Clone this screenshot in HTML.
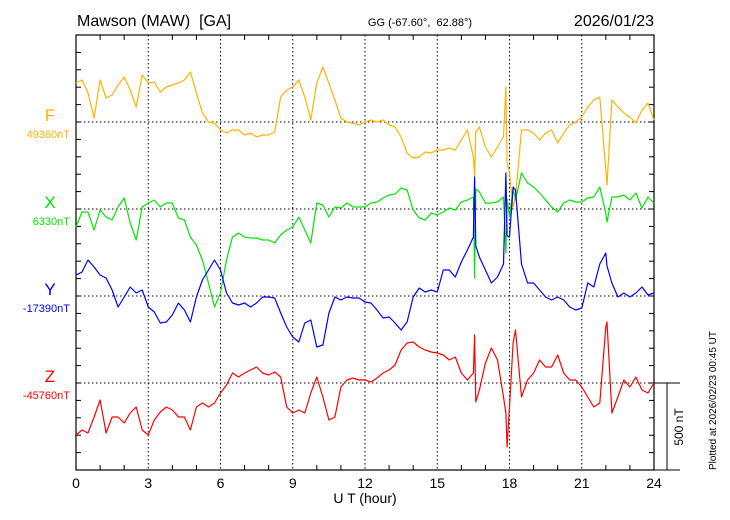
<!DOCTYPE html>
<html><head><meta charset="utf-8"><style>
body{margin:0;background:#fff;}
svg{display:block;font-family:"Liberation Sans",sans-serif;}
</style></head><body>
<svg id="chart" width="730" height="520" viewBox="0 0 730 520">
<g id="frame"></g>
<g id="series"></g>
<g id="labels"></g>
<text x="365" y="503" text-anchor="middle" font-size="14">U T (hour)</text>
<text x="77" y="26" font-size="16" xml:space="preserve">Mawson (MAW)  [GA]</text>
<text x="420" y="26" text-anchor="middle" font-size="11" xml:space="preserve">GG (-67.60°,  62.88°)</text>
<text x="654" y="26" text-anchor="end" font-size="16">2026/01/23</text>
<text transform="translate(683,427) rotate(-90)" text-anchor="middle" font-size="12">500 nT</text>
<text transform="translate(716,470) rotate(-90)" font-size="10">Plotted at 2026/02/23 00:45 UT</text>
</svg>
<script>
// data: hour grid 0..24 step 0.25, deviations in nT from baseline
const gridStart = 0, gridStep = 0.25;
const fValues = [234,252,174,24,252,144,162,222,270,192,90,282,234,240,180,210,222,234,252,300,174,54,0,-6,-48,-66,-48,-48,-78,-66,-90,-78,
-78,-60,150,192,210,252,150,12,234,330,234,132,24,0,-6,-18,0,12,0,12,-18,-30,-90,-186,-216,-210,-180,-186,-168,-168,-156,-168,
-108,-48,-210,-30,-150,-210,-150,-90,-306,-450,-48,-48,-66,-108,-66,-48,-126,-66,-18,0,30,90,132,150,-288,132,90,54,30,-6,72,114,12];
const xValues = [-108,-18,-18,-126,-6,-48,-66,12,66,-84,-186,12,36,54,12,36,36,-54,-66,-168,-216,-306,-444,-588,-504,-306,-168,-144,-168,-174,-174,-186,
-186,-204,-156,-126,-108,-48,-126,-204,36,24,-48,12,6,36,12,12,12,36,42,66,84,90,126,114,-6,-54,-66,-24,-36,-18,6,-6,
42,54,72,102,36,36,42,72,-48,54,216,156,132,96,54,12,-18,36,54,42,42,66,72,132,-24,72,72,84,54,96,6,72,36];
const yValues = [126,144,216,174,126,108,36,-66,-6,54,18,36,-66,-96,-162,-156,-114,-42,-84,-156,-6,96,156,216,156,18,-42,-54,-42,-66,-42,-6,
-6,-12,-102,-186,-246,-276,-162,-144,-306,-294,-102,-6,-24,-6,-12,-12,-36,-42,-84,-132,-126,-162,-204,-156,-6,48,24,36,24,156,156,114,
204,276,354,234,156,78,114,192,354,636,192,78,78,36,-6,-24,-6,-24,-66,-84,-72,78,54,192,258,78,-6,18,-6,18,54,6,18];
const zValues = [-312,-282,-300,-204,-102,-300,-204,-204,-240,-180,-144,-282,-312,-222,-174,-144,-162,-204,-204,-282,-144,-120,-144,-120,-60,-12,60,36,60,78,96,60,
48,66,36,-144,-180,-162,-180,-60,36,-84,-222,-204,-24,18,30,18,18,6,30,60,78,108,198,240,246,216,198,186,180,168,138,156,
60,18,60,-42,120,210,138,-84,-144,318,-84,18,60,138,96,96,168,60,18,18,-24,-84,-144,-120,336,-180,-84,18,-24,36,-42,-60,0];
// spike samples (extra times)
const spikeTimes = [16.55,16.6,17.85,17.9,18.15,22.05];
const fSpikes = [-330,-60,210,-246,-510,-378];
const xSpikes = [-414,120,-264,60,120,-78];
const ySpikes = [714,300,738,360,654,180];
const zSpikes = [288,-114,-180,-384,240,366];
const xTickLabels = ["0","3","6","9","12","15","18","21","24"];
const seriesNames = ["F","X","Y","Z"];
const baseLabels = ["49360nT","6330nT","-17390nT","-45760nT"];

const L=76,R=654,T=35,B=470;
const NS="http://www.w3.org/2000/svg";
const bases=[122,209,296,383];
const colors=["#FFB300","#00E600","#0000FF","#FF0000"];
const pxPerNT=1/6;
const xs=h=>L+(R-L)*h/24;
const ys=(i,v)=>bases[i]-v*pxPerNT;
function mk(tag,attrs,parent){const e=document.createElementNS(NS,tag);for(const k in attrs)e.setAttribute(k,attrs[k]);parent.appendChild(e);return e;}
const frame=document.getElementById('frame'),ser=document.getElementById('series'),lab=document.getElementById('labels');

for(let h=3;h<24;h+=3){const g=mk('line',{x1:xs(h),x2:xs(h),y1:T,y2:B,stroke:'#000','stroke-width':1,'stroke-dasharray':'1.5,2.5'},frame);

}
bases.forEach(b=>{const g=mk('line',{x1:L,x2:R,y1:b,y2:b,stroke:'#000','stroke-width':1,'stroke-dasharray':'1.5,2.5'},frame);

});
for(let h=1;h<24;h++){if(h%3===0)continue;
mk('line',{x1:xs(h),x2:xs(h),y1:T,y2:T+5,stroke:'#000'},frame);
mk('line',{x1:xs(h),x2:xs(h),y1:B,y2:B-5,stroke:'#000'},frame);}
for(let y=B-87/5;y>T+2;y-=87/5){mk('line',{x1:L,x2:L+5,y1:y,y2:y,stroke:'#000'},frame);mk('line',{x1:R,x2:R-5,y1:y,y2:y,stroke:'#000'},frame);}
const box=mk('rect',{x:L,y:T,width:R-L,height:B-T,fill:'none',stroke:'#000','stroke-width':1.2},frame);


mk('line',{x1:R,x2:680,y1:383,y2:383,stroke:'#000'},frame);
mk('line',{x1:R,x2:680,y1:B,y2:B,stroke:'#000'},frame);
const sb=mk('line',{x1:667,x2:667,y1:383,y2:B,stroke:'#000'},frame);



const all=[fValues,xValues,yValues,zValues],spk=[fSpikes,xSpikes,ySpikes,zSpikes];
all.forEach((vals,i)=>{
  const pts=vals.map((v,k)=>[gridStart+k*gridStep,v]);
  spikeTimes.forEach((t,k)=>pts.push([t,spk[i][k]]));
  pts.sort((a,b)=>a[0]-b[0]);
  const d=pts.map((p,k)=>(k?'L':'M')+xs(p[0]).toFixed(1)+','+ys(i,p[1]).toFixed(1)).join('');
  const p=mk('path',{d:d,fill:'none',stroke:colors[i],'stroke-width':1.2,'stroke-linejoin':'round'},ser);
  
  
  const t=mk('text',{x:50,y:bases[i]-1,'text-anchor':'middle','font-size':17,fill:colors[i]},lab);t.textContent=seriesNames[i];
  
  
  const b=mk('text',{x:70,y:bases[i]+16,'text-anchor':'end','font-size':11,fill:colors[i]},lab);b.textContent=baseLabels[i];
  
  
});
xTickLabels.forEach((s,k)=>{const t=mk('text',{x:xs(k*3),y:488,'text-anchor':'middle','font-size':14},lab);t.textContent=s;

});
</script>
</body></html>
